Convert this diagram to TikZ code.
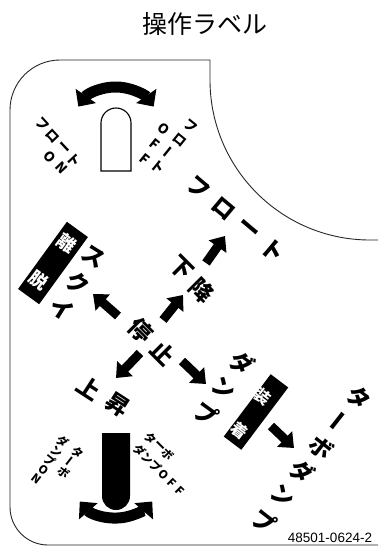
\documentclass[tikz,border=0pt]{standalone}
\usepackage{fontspec}
\setmainfont{Noto Sans CJK JP}
\newfontfamily\numfont{Liberation Sans}
\usetikzlibrary{arrows.meta}
\newcommand\VB{\rotatebox[origin=c]{90}{ー}}
\newcommand\chrow[7]{\foreach \ch [count=\k from 0] in {#7}{\node[#6] (#1\k) at ({#2+\k*(#4)},{#3+\k*(#5)}) {\ch};}}
\begin{document}
\begin{tikzpicture}[x=1pt,y=-1pt,
  ch/.style={inner sep=0pt},
  big/.style={ch, font=\bfseries\fontsize{23}{23}\selectfont},
  small/.style={ch, font=\bfseries\fontsize{13.5}{13.5}\selectfont},
  tiny/.style={ch, font=\bfseries\fontsize{11.5}{11.5}\selectfont},
  wbox/.style={fill=black, inner sep=0pt},
  wtxt/.style={ch, text=white, font=\bfseries\fontsize{18}{18}\selectfont},
  arr/.style={line width=9pt, -{Triangle[length=13pt,width=21pt]}},
  darr/.style={line width=11pt, {Triangle[length=13pt,width=24pt]}-{Triangle[length=13pt,width=24pt]}},
  outline/.style={line width=0.9pt, draw=black!85}
]
\useasboundingbox (0,0) rectangle (378,548);
% title
\node[font=\fontsize{25}{25}\selectfont, inner sep=0pt] (title) at (204.5,24.5) {操作ラベル};
% outline
\draw[outline] (378,240) -- (370,240) arc[start angle=90, end angle=180, radius=160]
  -- (210,60) -- (60,60) arc[start angle=270, end angle=180, radius=50]
  -- (10,507) arc[start angle=180, end angle=90, radius=38] -- (378,545);
% top lever
\draw[line width=1.1pt, fill=white] (101,171) -- (101,123) arc[start angle=180, end angle=360, radius=15] -- (131,171) -- cycle;
\draw[darr] (116,133) ++(-145:46) arc[start angle=-145, end angle=-35, radius=46];
% bottom lever
\fill (102,433) -- (102,496) arc[start angle=180, end angle=0, radius=14] -- (130,433) -- cycle;
\draw[darr] (116,470) ++(139:48) arc[start angle=139, end angle=41, radius=48];
% small labels top
\chrow{tla}{42}{124}{10.5}{12}{small, rotate=-47}{フ,ロ,ー,ト}
\chrow{tlb}{50}{157}{12}{11}{small, rotate=-47}{O,N}
\chrow{tra}{191}{126}{-11}{13.7}{small, rotate=-39}{フ,ロ,\VB,ト}
\chrow{trb}{164}{129}{-9.5}{15}{small, rotate=-39}{O,F,F}
% small labels bottom
\chrow{bra}{151}{438}{8.2}{8.2}{tiny, rotate=-45}{タ,ー,ボ}
\chrow{brb}{140}{450}{8}{8.2}{tiny, rotate=-45}{ダ,ン,プ,O,F,F}
\chrow{bla}{78}{453}{-7}{9.5}{tiny, rotate=-38}{タ,\VB,ボ}
\chrow{blb}{63}{442}{-6.6}{9.3}{tiny, rotate=-38}{ダ,ン,プ,O,N}
% main labels
\chrow{fl}{198}{188}{25}{20.7}{big, rotate=-40}{フ,ロ,ー,ト}
\chrow{kk}{181}{268}{21}{22}{big, rotate=-45}{下,降}
\chrow{ts}{141}{330}{22}{23}{big, rotate=-45}{停,止}
\chrow{js}{89}{388}{29}{17}{big, rotate=-33}{上,昇}
\chrow{sk}{94}{257}{-16}{26}{big, rotate=-32}{ス,ク,イ}
\chrow{dp}{242}{363}{-18}{25.5}{big, rotate=-36}{ダ,ン,プ}
\chrow{td}{359}{398}{-19}{24.6}{big, rotate=-38}{タ,\VB,ボ,ダ,ン,プ}
% boxes
\node[wbox, minimum width=26pt, minimum height=83pt, rotate=-36] (rd) at (53,263) {};
\node[wtxt, rotate=-36] (rd1) at (67,243) {離};
\node[wtxt, rotate=-36] (rd2) at (39,280) {脱};
\node[wbox, minimum width=22pt, minimum height=78pt, rotate=-37] (sc) at (256,412) {};
\node[wtxt, rotate=-37, font=\bfseries\fontsize{16}{16}\selectfont] (sc1) at (263,396) {装};
\node[wtxt, rotate=-37, font=\bfseries\fontsize{16}{16}\selectfont] (sc2) at (240,430) {着};
% arrows
\coordinate (a1s) at (206,263); \coordinate (a1e) at (225,236);
\coordinate (a2s) at (163,320); \coordinate (a2e) at (183,295);
\coordinate (a3s) at (118,316); \coordinate (a3e) at (93,294);
\coordinate (a4s) at (140,353); \coordinate (a4e) at (116,378);
\coordinate (a5s) at (182,361); \coordinate (a5e) at (206,384);
\coordinate (a6s) at (271,426); \coordinate (a6e) at (294,448);
\foreach \i in {1,...,6} {\draw[arr] (a\i s) -- (a\i e);}
% number
\node[font=\numfont\fontsize{13.5}{14}\selectfont, inner sep=0pt] (num) at (330,538) {48501-0624-2};
\end{tikzpicture}
\end{document}
